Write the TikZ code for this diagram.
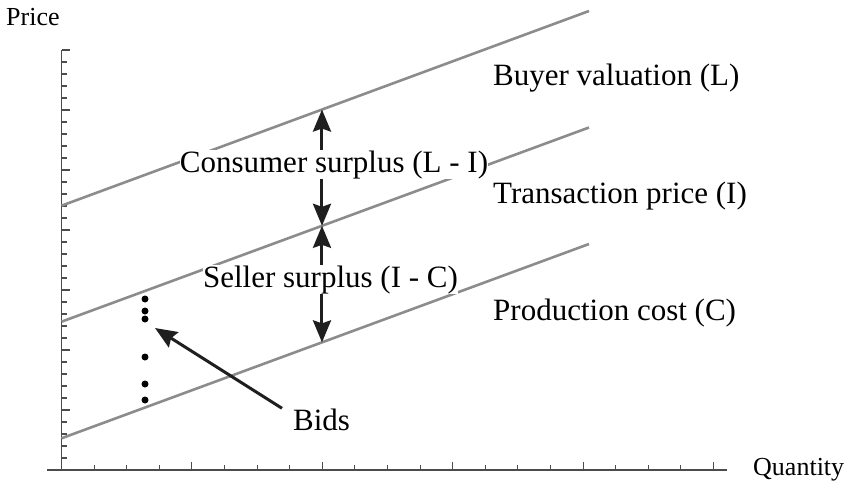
\documentclass[tikz,border=0pt]{standalone}
\usepackage{fontspec}
\setmainfont{Liberation Serif}
\usetikzlibrary{arrows.meta, positioning}

\begin{document}
\begin{tikzpicture}[x=1pt, y=-1pt,
    axis/.style={draw=black!70, line width=1.8pt},
    tick/.style={draw=black!70, line width=1.1pt},
    curve/.style={draw=black!45, line width=2.6pt},
    gap/.style={draw=black!88, line width=3pt,
      {Stealth[length=22pt,width=18pt,inset=3pt]}-{Stealth[length=22pt,width=18pt,inset=3pt]}},
    pointer/.style={draw=black!88, line width=3pt, -{Stealth[length=22pt,width=18pt,inset=3pt]}},
    lbl/.style={font=\fontsize{31}{36}\selectfont, inner sep=0pt, anchor=base west},
    axlbl/.style={lbl, font=\fontsize{26}{30}\selectfont},
    bid/.style={circle, fill=black, inner sep=0pt, minimum size=7pt}]
  \useasboundingbox (0,0) rectangle (851,488);

  % axes and ticks
  \draw[axis] (47,470) -- (727,470);
  \draw[axis] (61.5,470) -- (61.5,50);
  \foreach \k in {0,...,20} {
    \pgfmathsetmacro\tl{mod(\k,4)==0 ? 8 : 5}
    \draw[tick] (61.5+32.6*\k,470) -- ++(0,-\tl);
  }
  \foreach \k in {0,...,35} {
    \pgfmathsetmacro\tl{mod(\k,5)==0 ? 8 : 5}
    \draw[tick] (61.5,470-12*\k) -- ++(\tl,0);
  }

  % the three price lines
  \draw[curve] (61.5,205.7) coordinate (L0) -- (589,11) coordinate (L1)
    coordinate[pos=0.4938] (Lq);
  \draw[curve] (61.5,321.7) coordinate (I0) -- (589,127.5) coordinate (I1)
    coordinate[pos=0.4938] (Iq);
  \draw[curve] (61.5,438.3) coordinate (C0) -- (589,244) coordinate (C1)
    coordinate[pos=0.4938] (Cq);

  % surplus arrows
  \draw[gap] (Lq) -- (Iq);
  \draw[gap] (Iq) -- (Cq);

  % bids
  \foreach \y [count=\i] in {299,311,319,357,384,400}
    \node[bid] (b\i) at (145,\y) {};
  \coordinate (bidtip) at (155,328);
  \node[lbl, inner xsep=11pt] (bids) at (282,430) {Bids};
  \draw[pointer] (bids.north west) -- (bidtip);

  % labels
  \node[lbl, fill=white, anchor=base] (cons) at (334,172) {Consumer surplus (L - I)};
  \node[lbl, fill=white, anchor=base] (sell) at (330.5,287) {Seller surplus (I - C)};
  \node[lbl] (buyer) at (493,85) {Buyer valuation (L)};
  \node[lbl] (trans) at (493,203) {Transaction price (I)};
  \node[lbl] (prod) at (493,320) {Production cost (C)};
  \node[axlbl] (price) at (6,25) {Price};
  \node[axlbl] (qty) at (753,475) {Quantity};
\end{tikzpicture}
\end{document}
